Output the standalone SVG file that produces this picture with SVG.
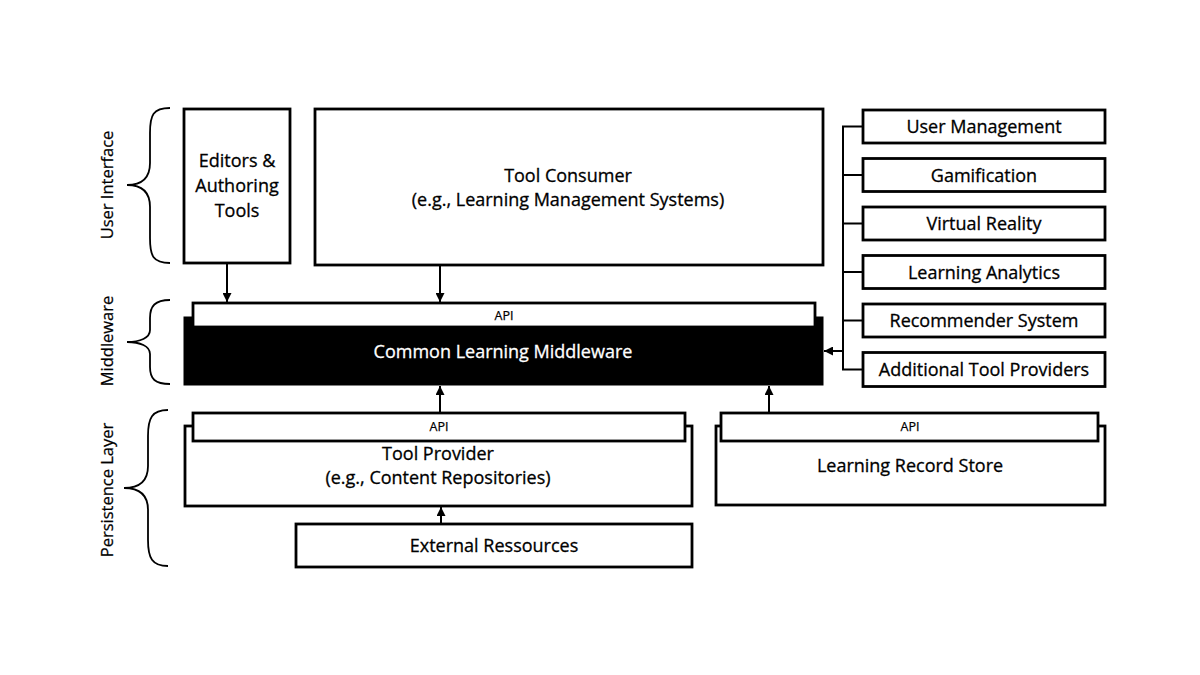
<svg xmlns="http://www.w3.org/2000/svg" width="1200" height="675" viewBox="0 0 1200 675">
<defs>
<style>
.box{fill:#fff;stroke:#000;stroke-width:2.8}
.api{fill:#fff;stroke:#000;stroke-width:2.8}
.t{font-family:"Open Sans","Liberation Sans",sans-serif;font-size:18px;fill:#000;stroke:#000;stroke-width:0.3;text-anchor:middle}
.tw{font-family:"Open Sans","Liberation Sans",sans-serif;font-size:18px;fill:#fff;stroke:#fff;stroke-width:0.3;text-anchor:middle}
.ts{font-family:"Open Sans","Liberation Sans",sans-serif;font-size:12.5px;fill:#000;stroke:#000;stroke-width:0.25;text-anchor:middle}
.lbl{font-family:"Open Sans","Liberation Sans",sans-serif;font-size:16.5px;fill:#000;stroke:#000;stroke-width:0.25;text-anchor:middle}
.br{fill:none;stroke:#000;stroke-width:1.8}
.ln{fill:none;stroke:#000;stroke-width:2}
.ar{fill:none;stroke:#000;stroke-width:2;marker-end:url(#ah)}
</style>
<marker id="ah" viewBox="0 0 10 10" refX="10" refY="5" markerWidth="4.5" markerHeight="4.5" orient="auto" markerUnits="strokeWidth">
<path d="M0,0 L10,5 L0,10 z" fill="#000"/>
</marker>
</defs>
<rect width="1200" height="675" fill="#fff"/>

<g id="layer-labels">
<path class="br" d="M170,108 C153,108 150,115 150,133 L150,163 C150,180 140,185 127,185 C140,185 150,190 150,207 L150,238 C150,256 153,263 170,263"/>
<text class="lbl" transform="translate(113,185) rotate(-90)">User Interface</text>
<path class="br" d="M170,300 C155,300 150,306 150,318 L150,330 C150,338 140,342 127,342 C140,342 150,346 150,354 L150,367 C150,379 155,384 170,384"/>
<text class="lbl" transform="translate(113,341) rotate(-90)">Middleware</text>
<path class="br" d="M168,410 C152,410 148,418 148,436 L148,466 C148,482 138,488 124,488 C138,488 148,494 148,510 L148,540 C148,558 152,566 168,566"/>
<text class="lbl" transform="translate(113,490) rotate(-90)">Persistence Layer</text>
</g>

<g id="editors">
<rect class="box" x="184" y="109" width="106" height="154"/>
<text class="t" x="237" y="167">Editors &amp;</text>
<text class="t" x="237" y="192">Authoring</text>
<text class="t" x="237" y="217">Tools</text>
</g>

<g id="tool-consumer">
<rect class="box" x="315" y="109" width="508" height="156"/>
<text class="t" x="568" y="182">Tool Consumer</text>
<text class="t" x="568" y="206">(e.g., Learning Management Systems)</text>
</g>

<g id="middleware">
<rect x="184" y="317" width="639" height="68" fill="#000" stroke="#000" stroke-width="1"/>
<rect class="api" x="193" y="303" width="622" height="24"/>
<text class="ts" x="504" y="320">API</text>
<text class="tw" x="503" y="358">Common Learning Middleware</text>
</g>

<g id="user-management">
<rect class="box" x="863" y="110" width="242" height="33"/>
<text class="t" x="984" y="133">User Management</text>
</g>
<g id="gamification">
<rect class="box" x="863" y="158.5" width="242" height="33"/>
<text class="t" x="984" y="181.5">Gamification</text>
</g>
<g id="virtual-reality">
<rect class="box" x="863" y="207" width="242" height="33"/>
<text class="t" x="984" y="230">Virtual Reality</text>
</g>
<g id="learning-analytics">
<rect class="box" x="863" y="255.5" width="242" height="33"/>
<text class="t" x="984" y="278.5">Learning Analytics</text>
</g>
<g id="recommender-system">
<rect class="box" x="863" y="304" width="242" height="33"/>
<text class="t" x="984" y="327">Recommender System</text>
</g>
<g id="additional-tool-providers">
<rect class="box" x="863" y="352.5" width="242" height="34"/>
<text class="t" x="984" y="376">Additional Tool Providers</text>
</g>

<g id="tool-provider">
<rect class="box" x="185" y="426" width="507" height="80"/>
<rect class="api" x="193" y="413" width="492" height="28"/>
<text class="ts" x="439" y="431">API</text>
<text class="t" x="438" y="460">Tool Provider</text>
<text class="t" x="438" y="484">(e.g., Content Repositories)</text>
</g>

<g id="learning-record-store">
<rect class="box" x="716" y="426" width="389" height="79"/>
<rect class="api" x="721" y="413" width="377" height="28"/>
<text class="ts" x="910" y="431">API</text>
<text class="t" x="910" y="472">Learning Record Store</text>
</g>

<g id="external-ressources">
<rect class="box" x="296" y="524" width="396" height="43"/>
<text class="t" x="494" y="552">External Ressources</text>
</g>

<g id="connectors">
<line class="ar" x1="227" y1="264" x2="227" y2="302"/>
<line class="ar" x1="440" y1="266" x2="440" y2="302"/>
<path class="ln" d="M863,126.5 H843 V369.5 H863"/>
<line class="ln" x1="843" y1="175" x2="863" y2="175"/>
<line class="ln" x1="843" y1="223.5" x2="863" y2="223.5"/>
<line class="ln" x1="843" y1="272" x2="863" y2="272"/>
<line class="ln" x1="843" y1="320.5" x2="863" y2="320.5"/>
<line class="ar" x1="843" y1="351" x2="824" y2="351"/>
<line class="ar" x1="440" y1="412" x2="440" y2="386"/>
<line class="ar" x1="769" y1="412" x2="769" y2="386"/>
<line class="ar" x1="441" y1="523" x2="441" y2="507"/>
</g>
</svg>
